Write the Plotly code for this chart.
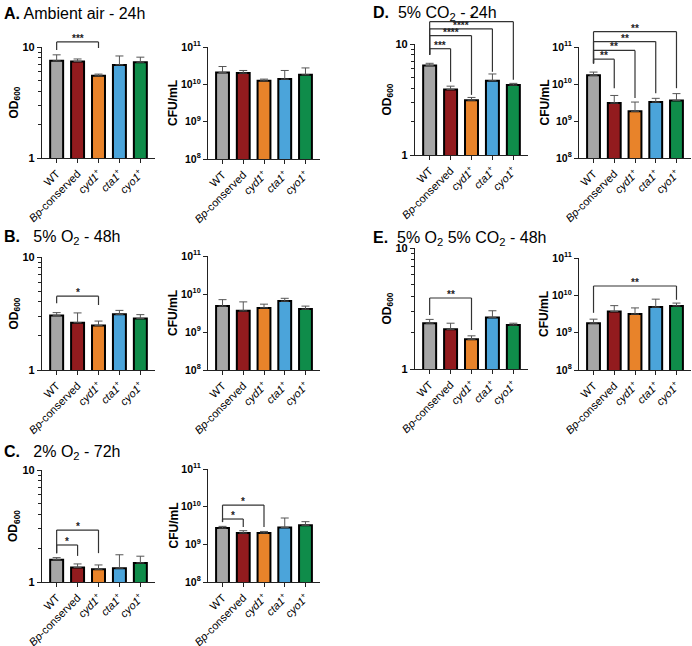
import math
import plotly.graph_objects as go

W, H = 692, 646

# ---------------- data ----------------
strains = ["WT", "<i>Bp</i>-conserved", "<i>cyd1</i><sup>+</sup>",
           "<i>cta1</i><sup>+</sup>", "<i>cyo1</i><sup>+</sup>"]
colors = ["#A6A6A6", "#921B1E", "#E8832A", "#4BA4DA", "#0F8C4A"]

A_od = [7.5, 7.4, 5.5, 6.9, 7.3]
A_od_err = [8.5, 7.8, 5.7, 8.3, 8.1]
A_cfu = [2.07e10, 2.0e10, 1.24e10, 1.38e10, 1.8e10]
A_cfu_err = [3.0e10, 2.35e10, 1.38e10, 2.35e10, 2.75e10]

B_od = [3.03, 2.62, 2.48, 3.11, 2.85]
B_od_err = [3.22, 3.2, 2.71, 3.37, 3.09]
B_cfu = [4.8e9, 3.6e9, 4.3e9, 6.5e9, 4.0e9]
B_cfu_err = [7.1e9, 6.2e9, 5.4e9, 7.7e9, 4.8e9]

C_od = [1.58, 1.35, 1.3, 1.33, 1.48]
C_od_err = [1.65, 1.45, 1.42, 1.75, 1.7]
C_cfu = [2.7e9, 2.0e9, 2.0e9, 2.8e9, 3.2e9]
C_cfu_err = [3.0e9, 2.3e9, 2.2e9, 5.0e9, 4.0e9]

D_od = [6.4, 3.9, 3.12, 4.67, 4.27]
D_od_err = [6.7, 4.17, 3.3, 5.37, 4.42]
D_cfu = [1.72e10, 3.06e9, 1.83e9, 3.25e9, 3.6e9]
D_cfu_err = [2.1e10, 4.9e9, 3.25e9, 4.1e9, 5.5e9]

E_od = [2.39, 2.13, 1.76, 2.67, 2.31]
E_od_err = [2.57, 2.39, 1.88, 3.03, 2.39]
E_cfu = [1.8e9, 3.7e9, 3.15e9, 4.85e9, 5.2e9]
E_cfu_err = [2.3e9, 5.3e9, 4.6e9, 7.9e9, 6.2e9]

# significance brackets: (from, to, line level, left leg end, right leg end, label)
A_od_br = [(0, 2, 11.1, 9.4, 9.8, "***")]
B_od_br = [(0, 2, 4.5, 3.9, 3.76, "*")]
C_od_br = [(0, 2, 2.91, 1.81, 1.81, "*"), (0, 1, 2.14, 1.81, 1.71, "*")]
C_cfu_br = [(0, 2, 1.1e10, 3.9e9, 2.9e9, "*"), (0, 1, 4.7e9, 3.9e9, 2.9e9, "*")]
D_od_br = [(0, 1, 9.07, 8.0, 4.57, "***"), (0, 2, 11.9, 8.0, 3.48, "****"),
           (0, 3, 13.7, 8.0, 5.62, "****"), (0, 4, 15.9, 8.0, 4.76, "*")]
D_cfu_br = [(0, 1, 4.7e10, 3.6e10, 7.7e9, "**"), (0, 2, 8.1e10, 3.6e10, 4.2e9, "**"),
            (0, 3, 1.4e11, 3.6e10, 5.6e9, "**"), (0, 4, 2.6e11, 3.6e10, 7.7e9, "**")]
E_od_br = [(0, 2, 3.86, 2.79, 2.1, "**")]
E_cfu_br = [(0, 4, 1.78e10, 3.4e9, 7.6e9, "**")]

# ---------------- layout of panels (pixels) ----------------
panels = [
    dict(kind="od", px=(42, 155), py=(47, 158), v=A_od, e=A_od_err, br=A_od_br),
    dict(kind="cfu", px=(208, 320), py=(47, 159), v=A_cfu, e=A_cfu_err, br=[]),
    dict(kind="od", px=(42, 155), py=(257, 370), v=B_od, e=B_od_err, br=B_od_br),
    dict(kind="cfu", px=(208, 320), py=(256, 370), v=B_cfu, e=B_cfu_err, br=[]),
    dict(kind="od", px=(42, 155), py=(470, 582), v=C_od, e=C_od_err, br=C_od_br),
    dict(kind="cfu", px=(208, 320), py=(469, 582), v=C_cfu, e=C_cfu_err, br=C_cfu_br),
    dict(kind="od", px=(415, 528), py=(44, 155), v=D_od, e=D_od_err, br=D_od_br),
    dict(kind="cfu", px=(579, 691), py=(47, 158), v=D_cfu, e=D_cfu_err, br=D_cfu_br),
    dict(kind="od", px=(415, 528), py=(248, 369), v=E_od, e=E_od_err, br=E_od_br),
    dict(kind="cfu", px=(579, 691), py=(258, 370), v=E_cfu, e=E_cfu_err, br=E_cfu_br),
]

XR = (-0.7, 4.7)
FONT = "Liberation Sans, Arial, sans-serif"

fig = go.Figure()
shapes = []
annotations = []

for k, p in enumerate(panels, start=1):
    xa = "x" if k == 1 else f"x{k}"
    ya = "y" if k == 1 else f"y{k}"
    xkey = "xaxis" if k == 1 else f"xaxis{k}"
    ykey = "yaxis" if k == 1 else f"yaxis{k}"
    yr = (0, 1) if p["kind"] == "od" else (8, 11)

    fig.add_trace(go.Bar(
        x=list(range(5)), y=p["v"], xaxis=xa, yaxis=ya, width=0.62,
        marker=dict(color=colors, line=dict(color="black", width=2)),
        error_y=dict(type="data", symmetric=False,
                     array=[e - v for e, v in zip(p["e"], p["v"])],
                     arrayminus=[0] * 5, color="#555555", thickness=1, width=4),
        showlegend=False, hoverinfo="skip"))

    xdom = [p["px"][0] / W, p["px"][1] / W]
    ydom = [1 - p["py"][1] / H, 1 - p["py"][0] / H]
    fig.layout[xkey] = dict(
        domain=xdom, anchor=ya, range=list(XR), tickmode="array", automargin=False,
        tickvals=list(range(5)), ticktext=strains, tickangle=-45,
        showline=True, linecolor="#222", linewidth=1.3, ticks="outside",
        ticklen=4, tickcolor="#222", tickwidth=1.2, showgrid=False, zeroline=False,
        tickfont=dict(family=FONT, size=11, color="black"), fixedrange=True)
    if p["kind"] == "od":
        yax = dict(tickvals=[1, 10], ticktext=["<b>1</b>", "<b>10</b>"],
                   tickfont=dict(family=FONT, size=11, color="black"),
                   minor=dict(tickvals=[2, 3, 4, 5, 6, 7, 8, 9], ticks="outside",
                              ticklen=3, tickcolor="#222", tickwidth=1, showgrid=False))
    else:
        yax = dict(tickvals=[1e8, 1e9, 1e10, 1e11],
                   tickfont=dict(family=FONT, size=10.5, color="black"),
                   ticktext=["<b>10<sup>8</sup></b>", "<b>10<sup>9</sup></b>",
                             "<b>10<sup>10</sup></b>", "<b>10<sup>11</sup></b>"])
    fig.layout[ykey] = dict(
        domain=ydom, anchor=xa, type="log", range=list(yr), tickmode="array",
        automargin=False,
        showline=True, linecolor="#222", linewidth=1.3, ticks="outside",
        ticklen=4, tickcolor="#222", tickwidth=1.2, showgrid=False, zeroline=False,
        fixedrange=True, **yax)

    def fx(i):
        return (i - XR[0]) / (XR[1] - XR[0])

    def fy(v):
        return (math.log10(v) - yr[0]) / (yr[1] - yr[0])

    for (i0, i1, yl, yb0, yb1, lab) in p["br"]:
        ln = dict(color="#333", width=1.2)
        common = dict(type="line", xref=f"{xa} domain", yref=f"{ya} domain", line=ln)
        shapes.append(dict(common, x0=fx(i0), x1=fx(i1), y0=fy(yl), y1=fy(yl)))
        shapes.append(dict(common, x0=fx(i0), x1=fx(i0), y0=fy(yl), y1=fy(yb0)))
        shapes.append(dict(common, x0=fx(i1), x1=fx(i1), y0=fy(yl), y1=fy(yb1)))
        annotations.append(dict(
            xref=f"{xa} domain", yref=f"{ya} domain", x=(fx(i0) + fx(i1)) / 2,
            y=fy(yl), text=f"<b>{lab}</b>", showarrow=False, yanchor="bottom",
            xanchor="center", yshift=-4, font=dict(family=FONT, size=10, color="#222")))

    # y-axis titles
    ymid = 1 - (p["py"][0] + p["py"][1]) / 2 / H
    if p["kind"] == "od":
        tx, ttl = p["px"][0] - 28, "<b>OD<sub>600</sub></b>"
    else:
        tx, ttl = p["px"][0] - 35, "<b>CFU/mL</b>"
    annotations.append(dict(xref="paper", yref="paper", x=tx / W, y=ymid, text=ttl,
                            textangle=-90, showarrow=False, xanchor="center",
                            yanchor="middle",
                            font=dict(family=FONT, size=12, color="black")))

# panel titles
titles = [
    (2, 13, "<b>A.</b> Ambient air - 24h"),
    (2, 237, "<b>B.</b>\u00a0\u00a0\u00a05% O<sub>2</sub> - 48h"),
    (2, 452, "<b>C.</b>\u00a0\u00a0\u00a02% O<sub>2</sub> - 72h"),
    (371, 13, "<b>D.</b>\u00a0\u00a05% CO<sub>2</sub> - 24h"),
    (371, 238, "<b>E.</b>\u00a0\u00a05% O<sub>2</sub> 5% CO<sub>2</sub> - 48h"),
]
for x, y, t in titles:
    annotations.append(dict(xref="paper", yref="paper", x=x / W, y=1 - y / H, text=t,
                            showarrow=False, xanchor="left", yanchor="middle",
                            font=dict(family=FONT, size=16, color="black")))

fig.update_layout(width=W, height=H, margin=dict(l=0, r=0, t=0, b=0, autoexpand=False),
                  paper_bgcolor="white", plot_bgcolor="white",
                  shapes=shapes, annotations=annotations, bargap=0.3)
fig.write_html("out.html", config={"displayModeBar": False},
               post_script="document.body.style.margin='0';document.body.style.padding='0';")
